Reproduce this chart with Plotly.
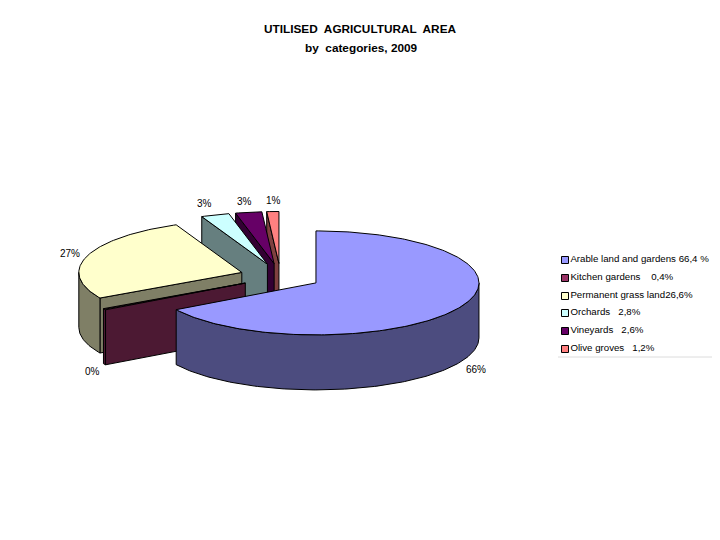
import numpy as np
import plotly.graph_objects as go

# values as printed in the legend (percent)
categories = ['Arable land and gardens', 'Kitchen gardens', 'Permanent grass land',
              'Orchards', 'Vineyards', 'Olive groves']
values = [66.4, 0.4, 26.6, 2.8, 2.6, 1.2]
legend_labels = ['Arable land and gardens 66,4 %', 'Kitchen gardens    0,4%', 'Permanent grass land26,6%',
                 'Orchards   2,8%', 'Vineyards   2,6%', 'Olive groves   1,2%']
top_colors = ['#9999FF', '#993366', '#FFFFCC', '#CCFFFF', '#660066', '#FF8080']
side_colors = ['#4C4C7F', '#4C1933', '#7F7F66', '#667F7F', '#330033', '#7F4040']

# pie geometry, in page pixels
CX, CY = 280.5, 276.5
RX, RY = 163, 52
DEPTH = 55
EXPLODE = 0.25
label_xy = [(476, 369), (92, 371), (70, 253), (204, 203), (244, 201), (273, 200)]
legend_y = [260, 278, 296, 313, 331, 349]
# the page body has an 8px margin, so the plot starts there
PAGE_MARGIN = 8


def arc(ax, ay, t0, t1, dy=0):
    t = np.radians(np.linspace(t0, t1, max(int(abs(t1 - t0)), 2) + 1))
    return ax + RX * np.sin(t), ay - RY * np.cos(t) + dy


def poly(fig, x, y, color):
    fig.add_trace(go.Scatter(
        x=list(x) + [x[0]], y=list(y) + [y[0]], mode='lines', fill='toself', fillcolor=color,
        line=dict(color='black', width=1), hoverinfo='skip', showlegend=False,
    ))


fig = go.Figure()
starts = np.cumsum([0] + values[:-1]) * 3.6
ends = np.cumsum(values) * 3.6

# back slices first, the big one goes on top
for i in reversed(range(len(values))):
    t0, t1 = starts[i], ends[i]
    mid = np.radians((t0 + t1) / 2)
    ax = CX + EXPLODE * RX * np.sin(mid)
    ay = CY - EXPLODE * RY * np.cos(mid)
    # cut face at the start of the slice
    if 180 < t0 < 360:
        ex, ey = arc(ax, ay, t0, t0 + 1)
        poly(fig, [ax, ex[0], ex[0], ax], [ay, ey[0], ey[0] + DEPTH, ay + DEPTH], side_colors[i])
    # outer wall, only the part turned to the viewer
    r0, r1 = max(t0, 90), min(t1, 270)
    if r0 < r1:
        ux, uy = arc(ax, ay, r0, r1)
        poly(fig, np.r_[ux, ux[::-1]], np.r_[uy, uy[::-1] + DEPTH], side_colors[i])
    tx, ty = arc(ax, ay, t0, t1)
    poly(fig, np.r_[ax, tx], np.r_[ay, ty], top_colors[i])

# data labels
for v, (lx, ly) in zip(values, label_xy):
    fig.add_annotation(x=lx, y=ly, text=f'{round(v)}%', showarrow=False,
                       font=dict(family='Liberation Sans', size=10, color='black'))

# legend
fig.add_trace(go.Scatter(
    x=[558, 713], y=[357, 357], mode='lines',
    line=dict(color='#dcdcdc', width=1), hoverinfo='skip', showlegend=False,
))
for name, label, color, ly in zip(categories, legend_labels, top_colors, legend_y):
    fig.add_trace(go.Scatter(
        x=[565], y=[ly], mode='markers+text', name=name, text=[label], textposition='middle right',
        marker=dict(symbol='square', size=7, color=color, line=dict(color='black', width=1)),
        textfont=dict(family='Liberation Sans', size=9.7, color='black'),
        hoverinfo='skip', showlegend=False,
    ))

fig.add_annotation(x=360, y=29, text='<b>UTILISED  AGRICULTURAL  AREA</b>', showarrow=False,
                   font=dict(family='Liberation Sans', size=11.8, color='black'))
fig.add_annotation(x=361, y=48, text='<b>by  categories, 2009</b>', showarrow=False,
                   font=dict(family='Liberation Sans', size=11.8, color='black'))

fig.update_layout(
    width=720 - PAGE_MARGIN, height=540 - PAGE_MARGIN, margin=dict(l=0, r=0, t=0, b=0),
    paper_bgcolor='white', plot_bgcolor='white', showlegend=False,
    xaxis=dict(range=[PAGE_MARGIN, 720], visible=False, fixedrange=True),
    yaxis=dict(range=[540, PAGE_MARGIN], visible=False, fixedrange=True),
)
fig.write_html('out.html')
